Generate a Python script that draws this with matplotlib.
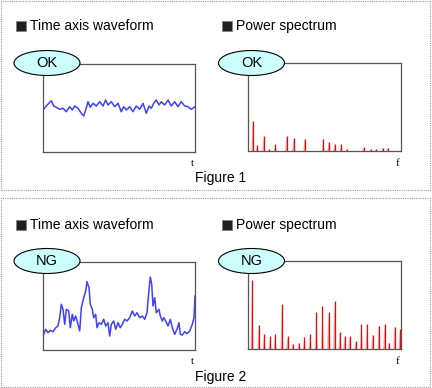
import matplotlib
matplotlib.use('Agg')
import matplotlib.pyplot as plt
from matplotlib.patches import Ellipse, Rectangle
import numpy as np

plt.rcParams['font.family'] = ['Liberation Sans', 'DejaVu Sans']

# OK time axis waveform (t, amplitude)
t_ok = [0, 3.3, 8.3, 10.7, 13.3, 16.7, 20, 23.3, 26.7, 29.3, 31.7, 35, 38.3, 40.7, 42.7, 45, 47.3, 50,
        53.3, 56.7, 60, 62.7, 65, 68.3, 71.7, 75, 78.3, 80.7, 83.3, 86.7, 90, 93.3, 96.7, 100, 103.3,
        106, 108.3, 110.7, 113.3, 116, 118.3, 121.7, 125, 128.3, 131.7, 135, 138.3, 141.7, 145, 148.3, 152]
a_ok = [42, 46, 51.3, 46, 44.7, 42.7, 43.7, 40.3, 45.3, 42, 46, 43.7, 38.7, 36, 42, 50.3, 44.7, 48.7,
        46, 50.3, 46, 52, 47, 50.3, 45.3, 48.7, 40.3, 45.3, 42, 45.3, 40.3, 46, 42.7, 48.7, 38.7,
        46, 43.7, 48.7, 52, 47, 50.3, 47, 52, 46, 50.3, 45.3, 50.3, 46, 45.3, 42.7, 45.3]

# NG time axis waveform
t_ng = [0, 2.7, 5, 7.3, 10, 12.7, 15, 16.7, 18.3, 20, 21.7, 23.3, 25.7, 27.3, 29.3, 30.7, 32.7, 35,
        36.7, 38.3, 40.7, 42.7, 44, 46, 47.3, 49.3, 50.7, 52.7, 54, 56, 58.3, 60.7, 62.7, 65, 66.7,
        68.3, 70.7, 72.7, 75, 77.3, 79.3, 81.7, 84, 86.7, 89.3, 91.7, 94, 96.7, 99.3, 101.7, 104,
        106, 107.3, 108.7, 110, 111.7, 113.3, 116, 117.3, 119.3, 120.7, 122.7, 125, 127.3, 129.3,
        131.7, 134, 136, 137.3, 139.3, 141.7, 144, 146.7, 149.3, 151, 152]
a_ng = [14, 20.7, 17.3, 19.7, 18.3, 22.3, 24, 32.3, 45.7, 40.7, 25.7, 40.7, 39, 22.3, 35.7, 29, 34, 25.7,
        19, 42.3, 52.3, 59, 68.3, 62.3, 45.7, 40.7, 32.3, 35.7, 22.3, 27.3, 25.7, 30.7, 24, 27.3, 14,
        25.7, 29, 20.7, 27.3, 22.3, 25.7, 30.7, 29, 32.3, 39, 34, 37.3, 32.3, 34, 30.7, 37.3,
        60.7, 73, 65.7, 44, 52.3, 37.3, 40.7, 34, 29, 32.3, 29, 24, 30.7, 22.3,
        15.7, 20.7, 27.3, 15.7, 15, 18.3, 16.3, 19, 25.7, 32.3, 54]

# OK power spectrum peaks (frequency, power)
f_ok = [4.7, 9.3, 15.7, 21.3, 27.3, 38.3, 45.3, 56.3, 74.7, 80.3, 86.3, 92.7, 98, 115, 122, 127.3, 133.7, 139]
p_ok = [29.7, 6, 15.3, 2, 7, 15.3, 13, 12, 12, 8.7, 7, 7, 2, 3.7, 2, 2, 3, 3]

# NG power spectrum peaks
f_ng = [4, 10.7, 16, 22, 27, 33.7, 39.3, 44.7, 50.7, 56, 61.7, 68, 74, 80, 86, 91.3, 96, 101, 107,
        112.7, 118.3, 123.7, 130, 135.7, 140.3, 145.7, 151]
p_ng = [68.7, 23.7, 15.3, 12.7, 14.7, 45.3, 13, 5.3, 6.3, 12, 15.3, 37, 42.7, 36.7, 47.7, 16.7, 13.3,
        13.3, 7.7, 25.3, 25.3, 14.3, 23.3, 25.3, 6.3, 22.3, 20.3]

W, H = 432, 388
fig = plt.figure(figsize=(W / 100, H / 100), dpi=100)


def px_axes(x0, y0, x1, y1):
    return fig.add_axes([x0 / W, 1 - y1 / H, (x1 - x0) / W, (y1 - y0) / H])


def style(ax):
    ax.set_xticks([])
    ax.set_yticks([])
    for s in ax.spines.values():
        s.set_color('#555555')
        s.set_linewidth(0.9)
    ax.set_xlim(0, 152)
    ax.set_ylim(0, 88)


def spectrum(ax, f, p):
    xs, ys = [0], [0]
    for fi, pi in zip(f, p):
        xs += [fi - 1.4, fi, fi + 1.4]
        ys += [0, pi, 0]
    xs.append(152)
    ys.append(0)
    ax.fill(xs, ys, color='#ffa8a8', lw=0)
    ax.vlines(f, 0, p, color='#ff0000', lw=0.9)


def label(x, y, s):
    fig.add_artist(Rectangle((x / W, 1 - (y + 5) / H), 10 / W, 10 / H, transform=fig.transFigure,
                             facecolor='#202020', edgecolor='#808080', lw=0.6))
    fig.text((x + 14) / W, 1 - y / H, s, fontsize=10, va='center', ha='left')


def oval(cx, cy, s):
    fig.add_artist(Ellipse((cx / W, 1 - cy / H), 66 / W, 25 / H, transform=fig.transFigure,
                           facecolor='#ccffff', edgecolor='#000000', lw=0.8, zorder=5))
    fig.text(cx / W, 1 - cy / H, s, fontsize=10.5, ha='center', va='center', zorder=6)


# panel borders
for y0, y1 in [(1, 190), (198, 387)]:
    fig.add_artist(Rectangle((1 / W, 1 - y1 / H), 429 / W, (y1 - y0) / H, transform=fig.transFigure,
                             fill=False, edgecolor='#999999', lw=0.8, linestyle=(0, (1, 1))))

panels = [
    (64, 152, t_ok, a_ok, f_ok, p_ok, 'OK', 'Figure 1', 26, 178),
    (262, 350, t_ng, a_ng, f_ng, p_ng, 'NG', 'Figure 2', 225, 377),
]
for y0, y1, t, a, f, p, tag, title, ly, fy in panels:
    ax1 = px_axes(43, y0, 195, y1)
    style(ax1)
    ax1.plot(t, a, color='#4040ff', lw=1.1)
    ax2 = px_axes(248, y0 - 1, 401, y1 - 1)
    style(ax2)
    spectrum(ax2, f, p)
    label(16, ly, 'Time axis waveform')
    label(222, ly, 'Power spectrum')
    oval(47, y0 - 1, tag)
    oval(251.5, y0 - 1, tag)
    fig.text(192 / W, 1 - (y1 + 11) / H, 't', fontsize=8, family='Liberation Serif', ha='center', va='center')
    fig.text(398 / W, 1 - (y1 + 11) / H, 'f', fontsize=8, family='Liberation Serif', ha='center', va='center')
    fig.text(221 / W, 1 - fy / H, title, fontsize=10, ha='center', va='center')

fig.savefig('out.png', dpi=100)
